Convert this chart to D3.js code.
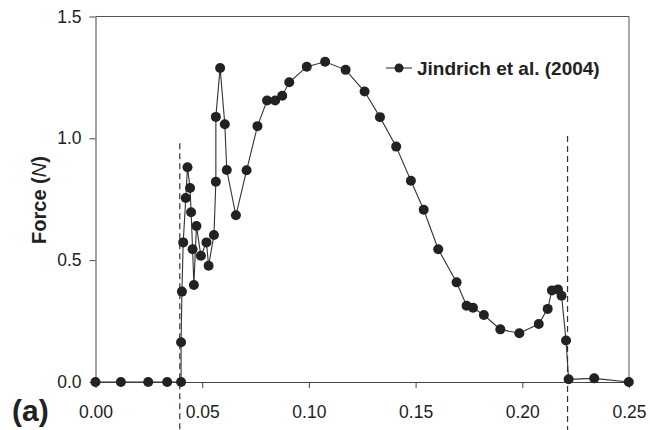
<!DOCTYPE html>
<meta charset="utf-8"/>
<title>Force trace</title>
<script src="https://d3js.org/d3.v7.min.js"></script>
<style>
  body { margin: 0; background: #fff; }
  svg { font-family: 'Liberation Sans', Arial, sans-serif; }
  .axis path, .axis line { stroke: #444; }
  .axis text { font-size: 17.5px; fill: #222; }
</style>
<svg width=650 height=430></svg>
<script>
  // time (s) and force (N)
  const times = [0, 0.0119, 0.0247, 0.0336, 0.0401, 0.0401, 0.0405, 0.0411, 0.0423, 0.0431,
    0.0443, 0.0448, 0.0455, 0.0461, 0.0473, 0.0494, 0.0520, 0.0530, 0.0555, 0.0564,
    0.0564, 0.0584, 0.0606, 0.0615, 0.0658, 0.0708, 0.0759, 0.0804, 0.0842, 0.0875,
    0.0908, 0.0990, 0.1076, 0.1172, 0.1261, 0.1333, 0.1409, 0.1478, 0.1538, 0.1606,
    0.1692, 0.1739, 0.1769, 0.1820, 0.1897, 0.1986, 0.2077, 0.2119, 0.2139, 0.2167,
    0.2184, 0.2205, 0.2217, 0.2337, 0.2499];
  const forces = [0, 0, 0, 0, 0, 0.163, 0.371, 0.573, 0.755, 0.881,
    0.796, 0.697, 0.545, 0.398, 0.640, 0.518, 0.573, 0.477, 0.603, 0.822,
    1.088, 1.289, 1.058, 0.870, 0.684, 0.869, 1.050, 1.155, 1.155, 1.175,
    1.230, 1.294, 1.314, 1.281, 1.192, 1.087, 0.966, 0.826, 0.707, 0.545,
    0.409, 0.313, 0.305, 0.275, 0.216, 0.200, 0.238, 0.300, 0.376, 0.380,
    0.354, 0.170, 0.011, 0.015, 0];
  const xTicks = [0, 0.05, 0.10, 0.15, 0.20, 0.25];
  const yTicks = [0, 0.5, 1.0, 1.5];
  const dashX = [0.0395, 0.2212];
  const dashTop = [0.98, 1.01];
  const seriesName = 'Jindrich et al. (2004)';

  const data = times.map((t, i) => ({t: t, f: forces[i]}));

  const svg = d3.select('svg');
  const x = d3.scaleLinear().domain([0, 0.25]).range([95.5, 629]);
  const y = d3.scaleLinear().domain([0, 1.5]).range([382, 16.5]);

  // frame (top and right)
  svg.append('path')
    .attr('d', `M${x(0)},${y(1.5)}H${x(0.25)}V${y(0)}`)
    .attr('fill', 'none').attr('stroke', '#555');

  svg.append('g').attr('class', 'axis')
    .attr('transform', `translate(0,${y(0)})`)
    .call(d3.axisBottom(x).tickValues(xTicks).tickFormat(d3.format('.2f')).tickSize(6).tickSizeOuter(0).tickPadding(17.5));

  svg.append('g').attr('class', 'axis')
    .attr('transform', `translate(${x(0)},0)`)
    .call(d3.axisLeft(y).tickValues(yTicks).tickFormat(d3.format('.1f')).tickSize(6).tickSizeOuter(0).tickPadding(8));

  svg.selectAll('.axis .domain').attr('stroke', '#444');

  // dashed markers of contact period
  svg.selectAll('line.dash')
    .data(dashX).enter()
    .append('line')
    .attr('class', 'dash')
    .attr('x1', d => x(d)).attr('x2', d => x(d))
    .attr('y1', (d, i) => y(dashTop[i])).attr('y2', 430)
    .attr('stroke', '#333').attr('stroke-width', 1.2)
    .attr('stroke-dasharray', '6 4');

  const line = d3.line().x(d => x(d.t)).y(d => y(d.f));
  svg.append('path')
    .datum(data)
    .attr('d', line)
    .attr('fill', 'none').attr('stroke', '#333').attr('stroke-width', 1.1);

  svg.selectAll('circle.pt')
    .data(data).enter()
    .append('circle')
    .attr('class', 'pt')
    .attr('cx', d => x(d.t)).attr('cy', d => y(d.f))
    .attr('r', 5).attr('fill', '#222');

  // legend
  const lg = svg.append('g').attr('transform', 'translate(386,68)');
  lg.append('line').attr('x1', 0).attr('x2', 26).attr('stroke', '#333').attr('stroke-width', 1.1);
  lg.append('circle').attr('cx', 13).attr('r', 4.5).attr('fill', '#222');
  lg.append('text').attr('x', 31).attr('y', 7)
    .style('font-size', '19px').style('font-weight', 'bold').attr('fill', '#222')
    .text(seriesName);

  // y label
  const yl = svg.append('text')
    .attr('transform', 'translate(46,200)rotate(-90)')
    .attr('text-anchor', 'middle')
    .style('font-size', '20px').style('font-weight', 'bold').attr('fill', '#222');
  yl.append('tspan').text('Force (');
  yl.append('tspan').style('font-style', 'italic').style('font-weight', 'normal').text('N');
  yl.append('tspan').text(')');

  svg.append('text')
    .attr('x', 12).attr('y', 421)
    .style('font-size', '30px').style('font-weight', 'bold').attr('fill', '#222')
    .text('(a)');
</script>
